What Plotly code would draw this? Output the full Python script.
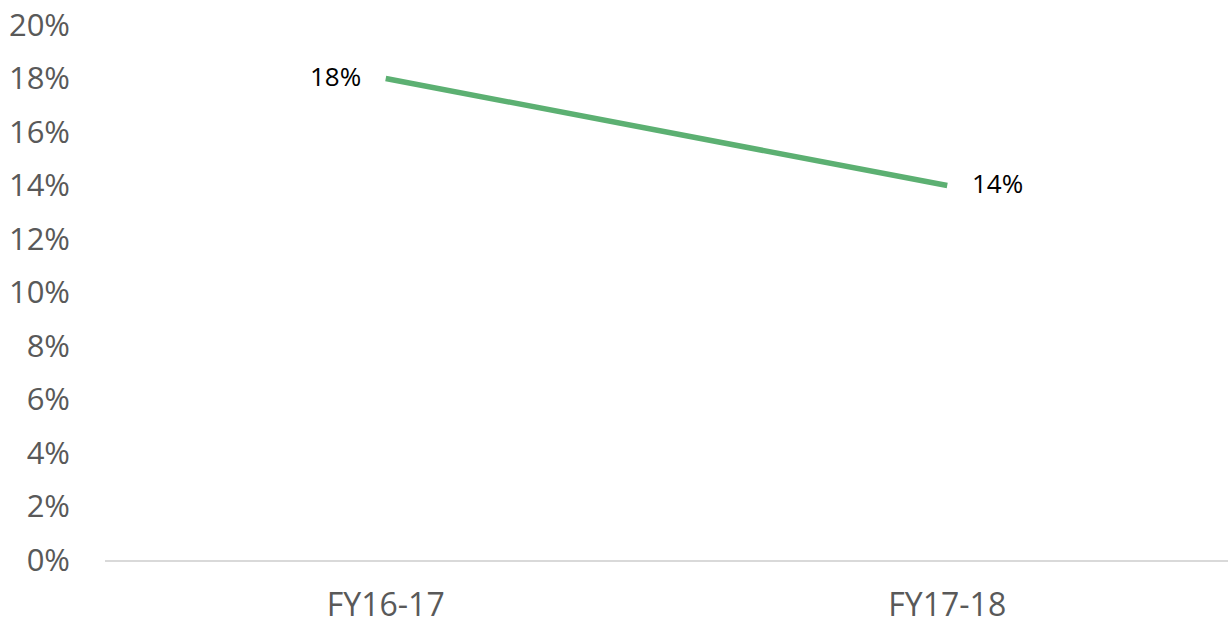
import plotly.graph_objects as go

categories = ["FY16-17", "FY17-18"]
values = [0.18, 0.14]
labels = ["18%", "14%"]
label_anchors = ["right", "left"]
label_shifts = [-23, 23]
tick_vals = [i / 100 for i in range(0, 21, 2)]
tick_text = [f"{i}%" for i in range(0, 21, 2)]

fig = go.Figure()
fig.add_trace(go.Scatter(
    x=categories, y=values, mode="lines",
    line=dict(color="#5CB072", width=5.5),
    hoverinfo="skip",
))
for c, v, t, a, s in zip(categories, values, labels, label_anchors, label_shifts):
    fig.add_annotation(
        x=c, y=v, text=t, showarrow=False, xanchor=a, yanchor="middle",
        xshift=s, yshift=3,
        font=dict(family="Open Sans", size=26, color="#000000"),
    )
fig.update_layout(
    width=1228, height=622,
    margin=dict(l=105, r=0, t=25, b=62, autoexpand=False),
    paper_bgcolor="white", plot_bgcolor="white",
    showlegend=False,
    font=dict(family="Open Sans", color="#595959"),
)
fig.update_xaxes(
    type="category", range=[-0.5, 1.5], automargin=False,
    showgrid=False, showline=True, linecolor="#D9D9D9", linewidth=2,
    tickfont=dict(size=32, color="#595959"), ticks="", ticklabelstandoff=16,
)
fig.update_yaxes(
    range=[0, 0.2], tickvals=tick_vals, ticktext=tick_text, automargin=False,
    showgrid=False, zeroline=False, showline=False,
    tickfont=dict(size=31, color="#595959"), ticks="", ticklabelstandoff=34,
)
fig.write_html(
    "out.html",
    config={"displayModeBar": False},
    post_script="document.body.style.margin='0';document.body.style.overflow='hidden';",
)
